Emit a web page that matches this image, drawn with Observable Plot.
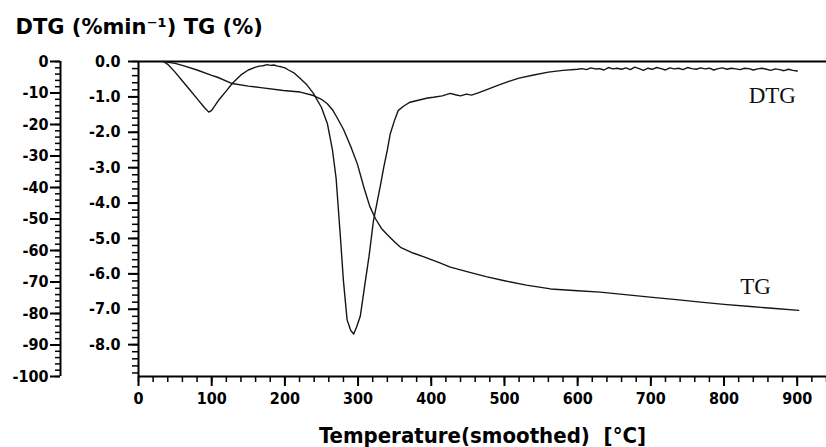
<!DOCTYPE html>
<html>
<head>
<meta charset="utf-8">
<script src="https://cdn.jsdelivr.net/npm/d3@7"></script>
<script src="https://cdn.jsdelivr.net/npm/@observablehq/plot@0.6"></script>
<style>
  html, body { margin: 0; padding: 0; background: #fff; }
  #chart { width: 826px; height: 447px; }
</style>
</head>
<body>
<div id="chart"></div>
<script>
// ---- Data ----
// TG curve: temperature (°C) and mass change (%)
const tgTemp = [34, 50, 61, 80, 100, 108, 128, 150, 167, 198, 221, 239, 250, 258, 265, 271, 280, 290, 299, 308, 316, 324, 332, 340, 350, 358, 375, 390, 410, 426, 450, 475, 500, 530, 563, 600, 631, 665, 699, 735, 768, 800, 836, 870, 902];
const tgValue = [0, -0.6, -1.3, -2.7, -4.4, -5.0, -7.0, -7.8, -8.3, -9.2, -9.7, -10.8, -12.0, -13.4, -15.3, -17.7, -21.5, -27.0, -32.5, -40.0, -46.0, -50.0, -53.0, -55.0, -57.3, -59.0, -60.8, -62.0, -63.8, -65.3, -66.8, -68.3, -69.6, -71.0, -72.2, -72.8, -73.2, -74.0, -74.8, -75.6, -76.4, -77.1, -77.8, -78.4, -79.0];

// DTG curve: temperature (°C) and rate (% min^-1)
const dtgTemp = [34, 40, 50, 60, 70, 80, 90, 96, 100, 110, 120, 128, 140, 150, 160, 165, 170, 176, 180, 185, 190, 195, 200, 205, 213, 221, 230, 239, 250, 258, 265, 270, 276, 280, 285, 290, 294, 298, 303, 310, 315, 321, 331, 335, 340, 344, 350, 355, 363, 371, 385, 395, 403, 415, 426, 433, 440, 448, 455, 465, 475, 490, 505, 520, 540, 560, 580, 600,
  606, 612, 618, 624, 630, 636, 642, 648, 654, 660, 666, 672, 678, 684, 690, 696, 702, 708, 714, 720, 726, 732, 738, 744, 750, 756, 762, 768, 774, 780, 786, 792, 798, 804, 810, 816, 822, 828, 834, 840, 846, 852, 858, 864, 870, 876, 882, 888, 894, 900];
const dtgValue = [0, -0.08, -0.3, -0.55, -0.8, -1.05, -1.3, -1.43, -1.38, -1.08, -0.83, -0.62, -0.38, -0.24, -0.16, -0.13, -0.12, -0.09, -0.11, -0.1, -0.13, -0.15, -0.18, -0.24, -0.33, -0.48, -0.66, -0.9, -1.3, -1.75, -2.5, -3.3, -5.0, -6.2, -7.3, -7.6, -7.7, -7.5, -7.2, -6.2, -5.5, -4.5, -3.45, -3.0, -2.5, -2.04, -1.65, -1.38, -1.25, -1.15, -1.08, -1.03, -1.01, -0.97, -0.9, -0.94, -0.97, -0.92, -0.95, -0.88, -0.8, -0.68, -0.57, -0.47, -0.38, -0.3, -0.25, -0.22,
  -0.2, -0.23, -0.18, -0.21, -0.2, -0.24, -0.17, -0.21, -0.19, -0.22, -0.18, -0.23, -0.16, -0.2, -0.25, -0.19, -0.22, -0.17, -0.2, -0.24, -0.18, -0.21, -0.19, -0.23, -0.17, -0.2, -0.22, -0.18, -0.21, -0.19, -0.24, -0.2, -0.18, -0.22, -0.19, -0.21, -0.23, -0.19, -0.2, -0.24, -0.21, -0.19, -0.22, -0.25, -0.21, -0.23, -0.26, -0.22, -0.25, -0.27];

// Axis ticks
const xMajorTicks = [0, 100, 200, 300, 400, 500, 600, 700, 800, 900];
const tgMajorTicks = [0, -10, -20, -30, -40, -50, -60, -70, -80, -90, -100];
const dtgMajorTicks = [0, -1, -2, -3, -4, -5, -6, -7, -8];

// Curve labels (temperature, TG-% position)
const curveLabels = [
  {name: "DTG", t: 866, v: -13.3},
  {name: "TG", t: 843, v: -73.7}
];

// ---- Build ----
const tg = tgTemp.map((t, i) => ({t, v: tgValue[i]}));
const dtg = dtgTemp.map((t, i) => ({t, v: dtgValue[i]}));

const DTG_MIN = -8.9;            // bottom of the DTG axis
const k = -100 / DTG_MIN;        // DTG units -> TG-% units (shared frame)

const xMinor = d3.range(0, 941, 20);
const tgMinor = d3.range(0, -100.01, -2);
const dtgMinor = d3.range(0, 8.81, 0.2).map(v => -v * k);

const tickFont = {fontFamily: "'DejaVu Sans Condensed', 'DejaVu Sans', sans-serif", fontWeight: "bold", fontSize: 16};
const OUTER_DX = -78;

const plot = Plot.plot({
  width: 826,
  height: 447,
  marginLeft: 138,
  marginRight: 0,
  marginTop: 61,
  marginBottom: 71,
  style: {background: "#fff", color: "#000", overflow: "visible"},
  x: {domain: [0, 940]},
  y: {domain: [-100, 0]},
  marks: [
    // frame lines
    Plot.ruleY([0, -100], {stroke: "#000", strokeWidth: 2}),
    Plot.ruleX([0], {stroke: "#000", strokeWidth: 2}),
    // x axis
    Plot.axisX({ticks: xMinor, tickSize: 6, tickFormat: () => "", strokeWidth: 1.5, label: null}),
    Plot.axisX({ticks: xMajorTicks, tickSize: 10, tickPadding: 6, strokeWidth: 2, tickFormat: d => String(d), label: null, ...tickFont}),
    // inner (DTG) axis
    Plot.axisY({ticks: dtgMinor, tickSize: 6, tickFormat: () => "", strokeWidth: 1.5, label: null}),
    Plot.axisY({ticks: dtgMajorTicks.map(v => v * k), tickSize: 10, tickPadding: 8, strokeWidth: 2,
      tickFormat: d => (d / k).toFixed(1), label: null, ...tickFont}),
    // outer (TG %) axis
    Plot.ruleX([0], {y1: 0, y2: -100, dx: OUTER_DX, stroke: "#000", strokeWidth: 2}),
    Plot.axisY({ticks: tgMinor, tickSize: 5, tickFormat: () => "", strokeWidth: 1.5, dx: OUTER_DX, label: null}),
    Plot.axisY({ticks: tgMajorTicks, tickSize: 10, tickPadding: 2, strokeWidth: 2, dx: OUTER_DX,
      tickFormat: d => String(d), label: null, ...tickFont}),
    // curves
    Plot.line(tg, {x: "t", y: "v", stroke: "#151515", strokeWidth: 1.4}),
    Plot.line(dtg, {x: "t", y: d => d.v * k, stroke: "#151515", strokeWidth: 1.4}),
    // curve labels
    Plot.text(curveLabels, {x: "t", y: "v", text: "name", textAnchor: "middle", lineAnchor: "bottom",
      fontFamily: "'Liberation Serif', 'Times New Roman', serif", fontSize: 23, fill: "#111"}),
    // titles
    Plot.text(["DTG (%min\u207B\u00B9) TG (%)"], {frameAnchor: "top-left", dx: -123, dy: -28, textAnchor: "start", lineAnchor: "bottom",
      fontFamily: "'DejaVu Sans', sans-serif", fontWeight: "bold", fontSize: 21, fill: "#000"}),
    Plot.text(["Temperature(smoothed)\u00A0\u00A0[\u00B0C]"], {x: 470, frameAnchor: "bottom", dy: 66, textAnchor: "middle", lineAnchor: "bottom",
      fontFamily: "'DejaVu Sans Condensed', 'DejaVu Sans', sans-serif", fontWeight: "bold", fontSize: 22, fill: "#000"})
  ]
});
document.getElementById("chart").appendChild(plot);
</script>
</body>
</html>
